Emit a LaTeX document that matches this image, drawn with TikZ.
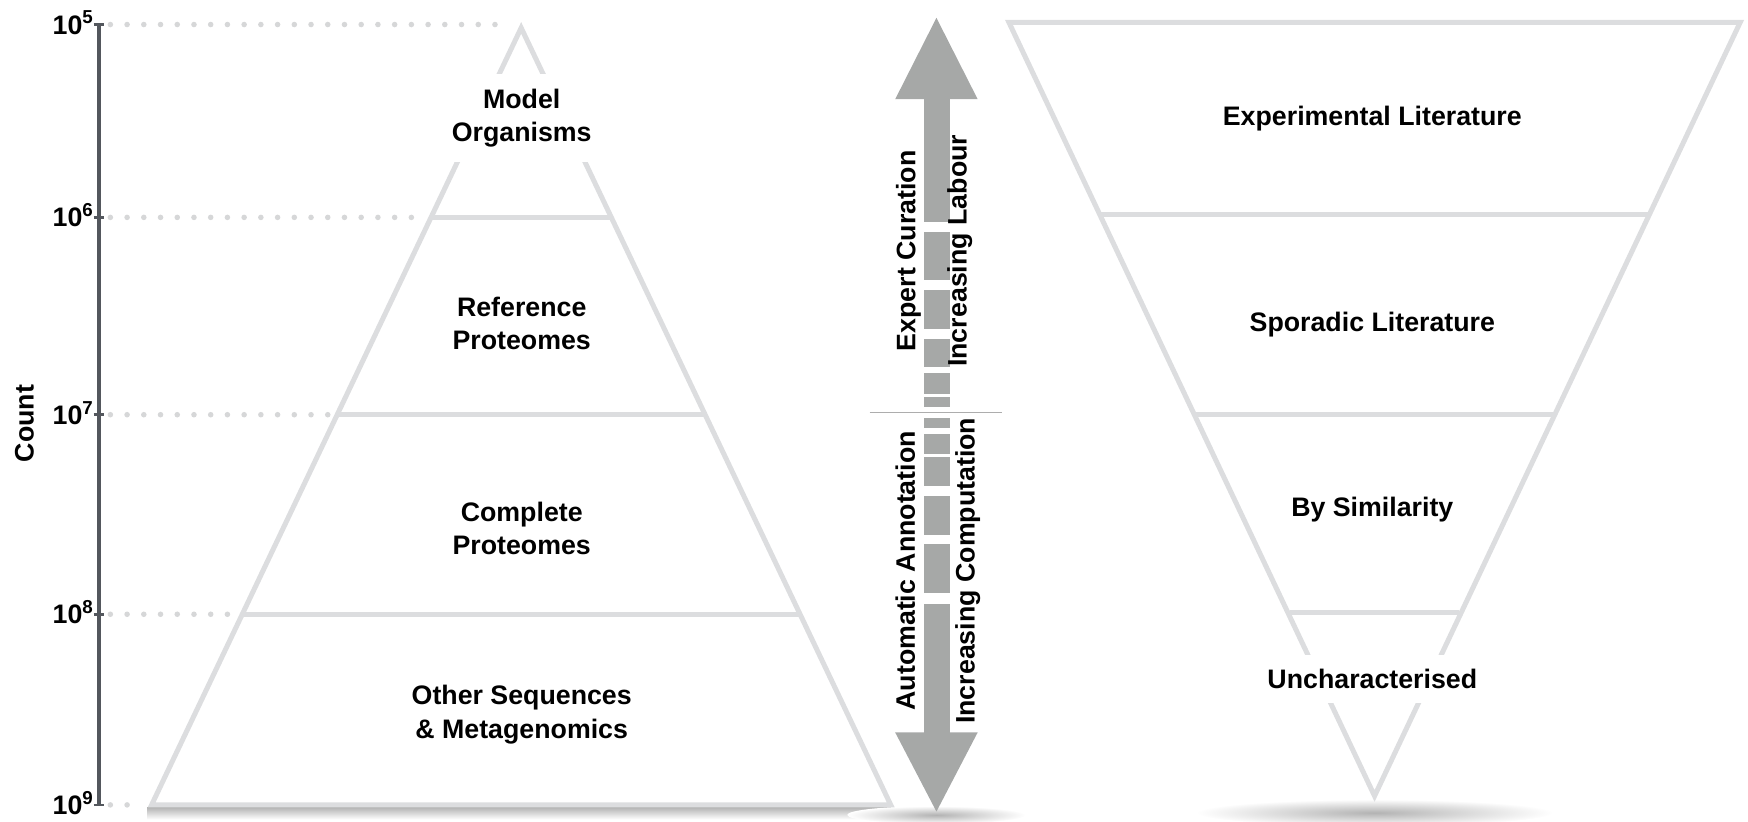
\documentclass[tikz,border=0pt]{standalone}
\usepackage{fontspec}
\setmainfont{Liberation Sans}
\usetikzlibrary{positioning,calc}

\definecolor{edgegrey}{HTML}{DCDDDF}
\definecolor{axisgrey}{HTML}{53575D}
\definecolor{arrowgrey}{HTML}{A6A8A7}
\definecolor{dotgrey}{HTML}{D6D7D8}

\begin{document}
\begin{tikzpicture}[
  x=1pt, y=-1pt,
  level/.style={draw=edgegrey, line width=4.5pt, line join=miter},
  tier/.style={font=\fontsize{24}{30}\selectfont\bfseries, align=center},
  cut/.style={tier, fill=white, inner xsep=10pt, inner ysep=13pt},
  guide/.style={dotgrey, line width=5pt, line cap=round, dash pattern=on 0pt off 15pt},
  power/.style={font=\fontsize{24}{26}\selectfont\bfseries, anchor=base east, inner sep=0pt},
  side/.style={font=\fontsize{24}{26}\selectfont\bfseries, rotate=90, inner sep=0pt},
  shadow/.style={inner color=black!30, outer color=white}
]
  \useasboundingbox (0,0) rectangle (1568,737);

  % soft shadows under the shapes
  \shade[top color=black!30, bottom color=white] (132,724) rectangle (803,735);
  \shade[shadow] (840,731) ellipse (80 and 8);
  \shade[shadow] (1233,729) ellipse (160 and 12);

  % count axis
  \draw[axisgrey, line width=3.2pt] (89,22) -- (89,722);
  \foreach \e/\y/\xend in {5/22/455, 6/195/381, 7/372/296, 8/551/211, 9/722/127} {
    \draw[axisgrey, line width=2.5pt] (84,\y) -- (93,\y);
    \node[power] (exp\e) at (84,\y+8.5) {10\textsuperscript{\e}};
    \draw[guide] (99,\y) -- (\xend,\y);
  }
  \node[side] (count) at (22,380) {Count};

  % sequence pyramid
  \coordinate (apex) at (467.5,25);
  \coordinate (baseL) at (136,722);
  \coordinate (baseR) at (799,722);
  \draw[level] (apex) -- (baseR) -- (baseL) -- cycle;
  \draw[level] (386.5,195) -- (548.5,195);
  \draw[level] (302.5,372) -- (632.5,372);
  \draw[level] (217.5,551) -- (717.5,551);

  \node[cut]  (model)  at (468,106) {Model\\Organisms};
  \node[tier] (refp)   at (468,290) {Reference\\Proteomes};
  \node[tier] (compp)  at (468,474) {Complete\\Proteomes};
  \node[tier] (other)  at (468,641) {Other Sequences\\\& Metagenomics};

  % curation arrow
  \fill[arrowgrey] (803,89) -- (840,16) -- (877,89) -- cycle;
  \fill[arrowgrey] (829,88) rectangle (852,199);
  \foreach \a/\b in {208/251, 260/295, 304/329, 335/353, 356/365,
                     375/384, 389/407, 410/436, 445/480, 488/532}
    \fill[arrowgrey] (829,\a) rectangle (852,\b);
  \fill[arrowgrey] (829,542) rectangle (852,658);
  \fill[arrowgrey] (803,657) -- (840,728) -- (877,657) -- cycle;
  \draw[black!32, line width=1.2pt] (780,370) -- (899,370);

  \node[side] (expert)  at (815,225) {Expert Curation};
  \node[side] (labour)  at (861,225) {Increasing Labour};
  \node[side] (auto)    at (812,512) {Automatic Annotation};
  \node[side] (compute) at (868,512) {Increasing Computation};

  % annotation funnel
  \coordinate (topL) at (905,20);
  \coordinate (topR) at (1561,20);
  \coordinate (tip) at (1233,714);
  \draw[level] (topL) -- (topR) -- (tip) -- cycle;
  \draw[level] (985.5,192) -- (1480.5,192);
  \draw[level] (1071.5,372) -- (1394.5,372);
  \draw[level] (1157,549) -- (1309,549);

  \node[tier] (explit)  at (1231,106) {Experimental Literature};
  \node[tier] (sporlit) at (1231,291) {Sporadic Literature};
  \node[tier] (bysim)   at (1231,457) {By Similarity};
  \node[cut]  (unchar)  at (1231,609) {Uncharacterised};
\end{tikzpicture}
\end{document}
